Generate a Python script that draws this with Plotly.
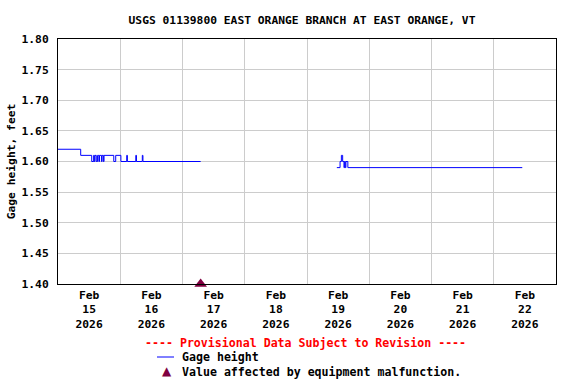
import plotly.graph_objects as go

TITLE = "USGS 01139800 EAST ORANGE BRANCH AT EAST ORANGE, VT"

# Segment 1 gage height (ft), step changes
times1 = ["2026-02-15 00:00", "2026-02-15 08:45", "2026-02-15 13:00", "2026-02-15 13:45",
          "2026-02-15 14:00", "2026-02-15 14:15", "2026-02-15 14:45", "2026-02-15 15:15",
          "2026-02-15 15:45", "2026-02-15 16:00", "2026-02-15 16:45", "2026-02-15 17:00",
          "2026-02-15 17:30", "2026-02-15 17:45", "2026-02-15 21:30", "2026-02-15 22:15",
          "2026-02-16 00:15", "2026-02-16 02:30", "2026-02-16 02:45", "2026-02-16 06:00",
          "2026-02-16 06:15", "2026-02-16 08:30", "2026-02-16 08:45", "2026-02-17 07:00"]
values1 = [1.62, 1.61, 1.60, 1.61,
           1.60, 1.61, 1.60, 1.61,
           1.60, 1.61, 1.60, 1.61,
           1.60, 1.61, 1.60, 1.61,
           1.60, 1.61, 1.60, 1.61,
           1.60, 1.61, 1.60, 1.60]

# Segment 2
times2 = ["2026-02-19 11:30", "2026-02-19 12:45", "2026-02-19 13:15", "2026-02-19 13:45",
          "2026-02-19 14:15", "2026-02-19 14:30", "2026-02-19 14:45", "2026-02-19 15:00",
          "2026-02-19 15:45", "2026-02-22 11:00"]
values2 = [1.59, 1.60, 1.61, 1.60,
           1.59, 1.60, 1.59, 1.60,
           1.59, 1.59]

# Equipment malfunction marker
mal_times = ["2026-02-17 07:00"]
mal_values = [1.40]

tick_days = ["2026-02-15 12:00", "2026-02-16 12:00", "2026-02-17 12:00", "2026-02-18 12:00",
             "2026-02-19 12:00", "2026-02-20 12:00", "2026-02-21 12:00", "2026-02-22 12:00"]
tick_text = ["Feb<br>15<br>2026", "Feb<br>16<br>2026", "Feb<br>17<br>2026", "Feb<br>18<br>2026",
             "Feb<br>19<br>2026", "Feb<br>20<br>2026", "Feb<br>21<br>2026", "Feb<br>22<br>2026"]

FONT = "DejaVu Sans Mono"
FS = 11.3
BLUE = "#0000ff"
MAROON = "#800040"

L, R, T, B = 58, 556, 39, 284
PW, PH = R - L, B - T

fig = go.Figure()
fig.add_trace(go.Scatter(
    x=times1 + [None] + times2,
    y=values1 + [None] + values2,
    mode="lines", line=dict(color=BLUE, width=1, shape="hv"),
    connectgaps=False, showlegend=False, hoverinfo="skip"))
fig.add_trace(go.Scatter(
    x=mal_times, y=mal_values, mode="markers",
    marker=dict(symbol="triangle-up", size=11, color=MAROON),
    cliponaxis=False, showlegend=False, hoverinfo="skip"))

fig.update_layout(
    width=576, height=384,
    margin=dict(l=L, r=576 - R, t=T, b=384 - B, autoexpand=False),
    paper_bgcolor="white", plot_bgcolor="white",
    font=dict(family=FONT, size=FS, color="black", weight="bold"),
    title=dict(text=TITLE, x=302 / 576, xanchor="center", y=1 - 20 / 384, yanchor="middle",
               font=dict(family=FONT, size=FS, color="black", weight="bold")),
    showlegend=False,
)
fig.update_xaxes(
    type="date", range=["2026-02-15 00:00", "2026-02-23 00:00"],
    tickmode="array", tickvals=tick_days, ticktext=tick_text,
    ticks="", showgrid=False, tickangle=0, automargin=False,
    tickfont=dict(family=FONT, size=FS, color="black", weight="bold"),
    showline=True, linecolor="black", linewidth=1, mirror=True,
    minor=dict(tick0="2026-02-15", dtick=86400000, showgrid=True,
               gridcolor="#cccccc", gridwidth=1, ticks=""),
    zeroline=False,
)
fig.update_yaxes(
    range=[1.40, 1.80], dtick=0.05, tick0=1.40, tickformat=".2f",
    showgrid=True, gridcolor="#cccccc", gridwidth=1, ticks="",
    ticklabelstandoff=6, automargin=False,
    tickfont=dict(family=FONT, size=FS, color="black", weight="bold"),
    showline=True, linecolor="black", linewidth=1, mirror=True, zeroline=False,
    title=dict(text="Gage height, feet", standoff=3,
               font=dict(family=FONT, size=FS, color="black", weight="bold")),
)

def pxx(x):
    return (x - L) / PW

def pyy(y):
    return 1 - (y - T) / PH

LFS = 11.6
fig.add_annotation(xref="paper", yref="paper", x=pxx(305), y=pyy(343),
                   text="---- Provisional Data Subject to Revision ----", showarrow=False,
                   xanchor="center", yanchor="middle",
                   font=dict(family=FONT, size=LFS, color="#ff0000", weight="bold"))
fig.add_shape(type="line", xref="paper", yref="paper",
              x0=pxx(157), x1=pxx(174), y0=pyy(357), y1=pyy(357),
              line=dict(color=BLUE, width=1))
fig.add_annotation(xref="paper", yref="paper", x=pxx(180), y=pyy(357),
                   text="Gage height", showarrow=False, xanchor="left", yanchor="middle",
                   font=dict(family=FONT, size=LFS, color="black", weight="bold"))
fig.add_annotation(xref="paper", yref="paper", x=pxx(167), y=pyy(371),
                   text="▲", showarrow=False, xanchor="center", yanchor="middle",
                   font=dict(family="DejaVu Sans", size=12, color=MAROON))
fig.add_annotation(xref="paper", yref="paper", x=pxx(180), y=pyy(372),
                   text="Value affected by equipment malfunction.", showarrow=False,
                   xanchor="left", yanchor="middle",
                   font=dict(family=FONT, size=LFS, color="black", weight="bold"))

fig.write_html("out.html", config={"displayModeBar": False, "staticPlot": True},
               post_script="document.body.style.margin='0';document.body.style.overflow='hidden';")
